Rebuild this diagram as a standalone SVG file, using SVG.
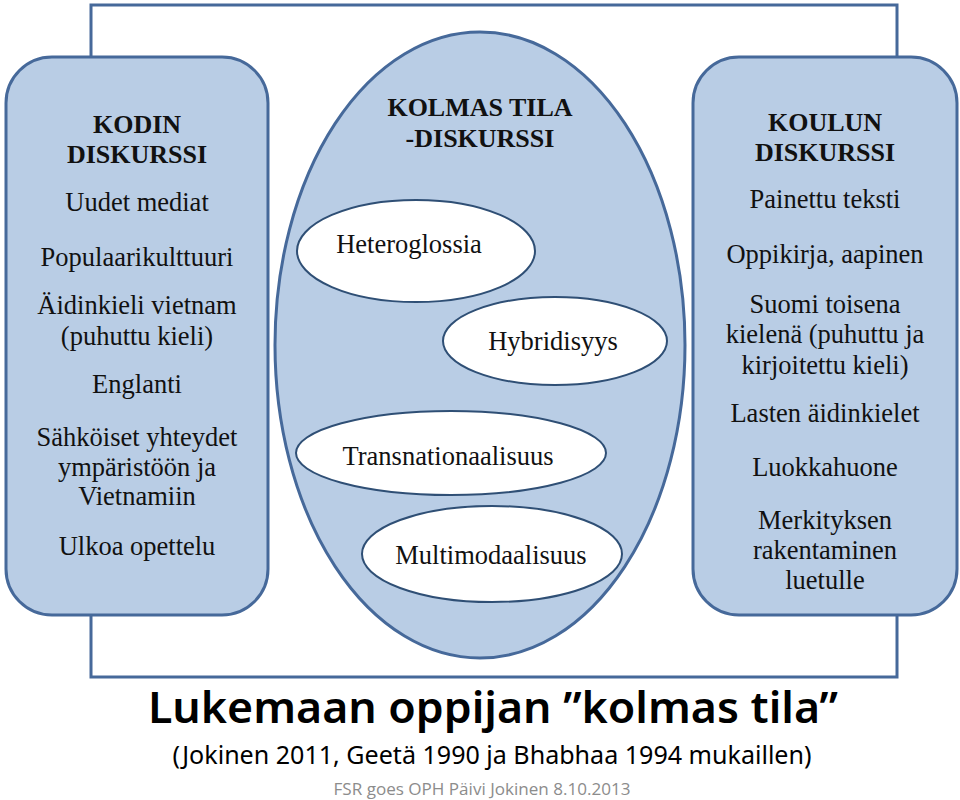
<svg xmlns="http://www.w3.org/2000/svg" width="960" height="800" viewBox="0 0 960 800">
<style>
.panel{fill:#b9cde5;stroke:#46699a;stroke-width:3}
.inner{fill:#ffffff;stroke:#2f4f75;stroke-width:2}
.frame{fill:none;stroke:#46699a;stroke-width:3}
.h{font-family:'Liberation Serif','Times New Roman',Tinos,'DejaVu Serif',serif;font-weight:bold;font-size:26px;fill:#111;text-anchor:middle}
.t{font-family:'Liberation Serif','Times New Roman',Tinos,'DejaVu Serif',serif;font-size:26.5px;fill:#111;text-anchor:middle}
.title{font-family:'Noto Sans','Open Sans',sans-serif;fill:#000;text-anchor:middle}
.foot{font-family:'Open Sans','Noto Sans',sans-serif;fill:#8c8c8c;text-anchor:middle;font-size:17px}
</style>
<rect width="960" height="800" fill="#ffffff"/>
<g id="frame">
<rect class="frame" x="91" y="5" width="806" height="672"/>
</g>
<g id="connectors"></g>
<g id="kodin">
<rect class="panel" x="6" y="57" width="262" height="558" rx="46" ry="46"/>
<text class="h" x="137" y="133">KODIN</text>
<text class="h" x="137" y="163">DISKURSSI</text>
<text class="t" x="137" y="211">Uudet mediat</text>
<text class="t" x="137" y="266">Populaarikulttuuri</text>
<text class="t" x="137" y="314">Äidinkieli vietnam</text>
<text class="t" x="137" y="345">(puhuttu kieli)</text>
<text class="t" x="137" y="393">Englanti</text>
<text class="t" x="137" y="446">Sähköiset yhteydet</text>
<text class="t" x="137" y="476">ympäristöön ja</text>
<text class="t" x="137" y="505">Vietnamiin</text>
<text class="t" x="137" y="555">Ulkoa opettelu</text>
</g>
<g id="koulun">
<rect class="panel" x="693" y="57" width="264" height="558" rx="46" ry="46"/>
<text class="h" x="825" y="131">KOULUN</text>
<text class="h" x="825" y="161">DISKURSSI</text>
<text class="t" x="825" y="208">Painettu teksti</text>
<text class="t" x="825" y="263">Oppikirja, aapinen</text>
<text class="t" x="825" y="313">Suomi toisena</text>
<text class="t" x="825" y="343">kielenä (puhuttu ja</text>
<text class="t" x="825" y="374">kirjoitettu kieli)</text>
<text class="t" x="825" y="422">Lasten äidinkielet</text>
<text class="t" x="825" y="476">Luokkahuone</text>
<text class="t" x="825" y="529">Merkityksen</text>
<text class="t" x="825" y="559">rakentaminen</text>
<text class="t" x="825" y="589">luetulle</text>
</g>
<g id="kolmas-tila">
<ellipse class="panel" cx="480" cy="345" rx="205" ry="313"/>
<text class="h" x="480" y="116">KOLMAS TILA</text>
<text class="h" x="480" y="147">-DISKURSSI</text>
</g>
<g id="heteroglossia">
<ellipse class="inner" cx="416" cy="251" rx="119" ry="51"/>
<text class="t" x="409" y="253">Heteroglossia</text>
</g>
<g id="hybridisyys">
<ellipse class="inner" cx="555" cy="341" rx="112" ry="44"/>
<text class="t" x="553" y="350">Hybridisyys</text>
</g>
<g id="transnationaalisuus">
<ellipse class="inner" cx="451" cy="453" rx="155" ry="42"/>
<text class="t" x="448" y="465">Transnationaalisuus</text>
</g>
<g id="multimodaalisuus">
<ellipse class="inner" cx="492" cy="554" rx="130" ry="48"/>
<text class="t" x="491" y="564">Multimodaalisuus</text>
</g>
<g id="caption">
<text class="title" x="493" y="723" font-size="44" font-weight="600" textLength="690" lengthAdjust="spacingAndGlyphs">Lukemaan oppijan ”kolmas tila”</text>
<text class="title" x="492" y="764" font-size="25" textLength="639" lengthAdjust="spacingAndGlyphs">(Jokinen 2011, Geetä 1990 ja Bhabhaa 1994 mukaillen)</text>
<text class="foot" x="482" y="795" textLength="297" lengthAdjust="spacingAndGlyphs">FSR goes OPH Päivi Jokinen 8.10.2013</text>
</g>
</svg>
